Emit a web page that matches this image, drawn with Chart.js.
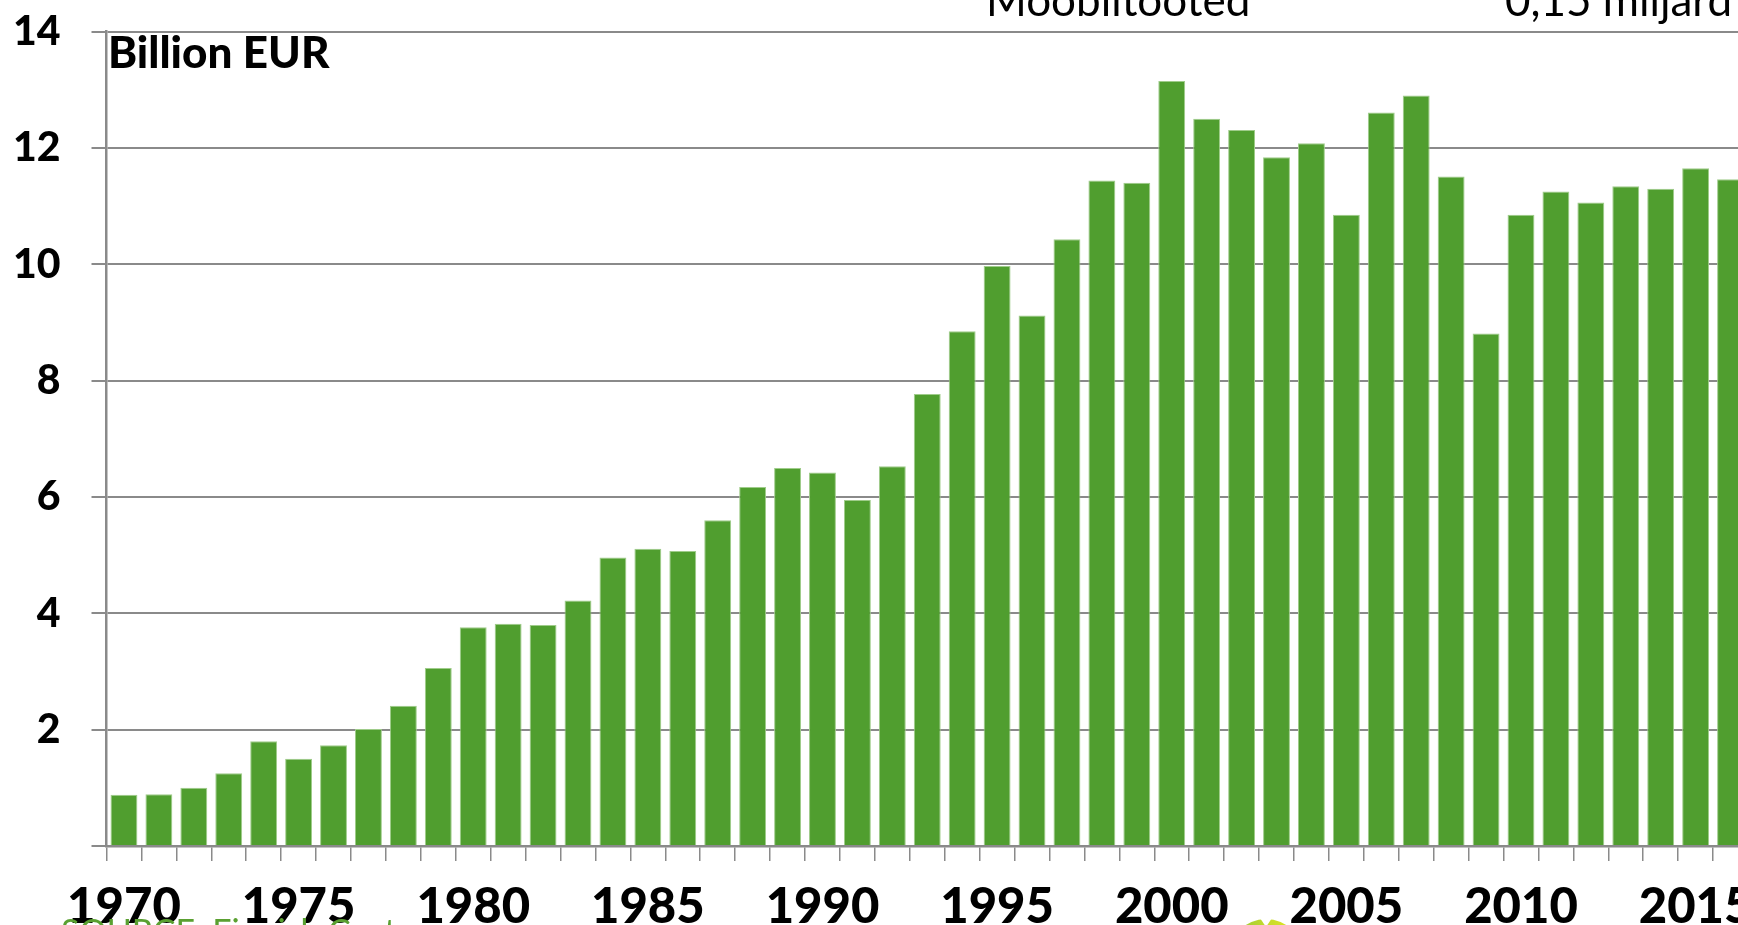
<!DOCTYPE html>
<html lang="en">
<head>
  <meta charset="UTF-8">
  <title>Billion EUR</title>
  <script src="https://cdn.jsdelivr.net/npm/chart.js"></script>
  <style>
    html, body { margin: 0; padding: 0; background: #fff; overflow: hidden; width: 1738px; height: 925px; }
    #wrap { position: absolute; left: 0; top: -24px; width: 1760px; height: 969px; }
    .note { position: absolute; white-space: nowrap; font-family: Lato, "Open Sans", sans-serif; line-height: 1; }
    #logo { position: absolute; left: 1228px; top: 919px; width: 76px; height: 76px; border-radius: 50%;
            background: linear-gradient(90deg, #8cc43c, #c9dc2a 55%, #e8e61e); }
    #logo:after { content: ''; position: absolute; left: 32px; top: -1px; border-left: 6px solid transparent;
                  border-right: 6px solid transparent; border-top: 9px solid #fff; }
  </style>
</head>
<body>
  <div id="wrap"><canvas id="chart"></canvas></div>

  <div class="note" style="left:986px; top:-23px; font-size:44px; color:#000;">Moobiltooted</div>
  <div class="note" style="left:1505px; top:-23px; font-size:44px; color:#000;">0,15 miljard</div>
  <div class="note" style="left:108px; top:29px; font-size:44px; font-weight:900; color:#000;">Billion EUR</div>
  <div class="note" style="left:61px; top:914px; font-size:34px; color:#5aa031;">SOURCE: Finnish Customs</div>
  <div id="logo"></div>

  <script>
    // years on the x axis
    const years = ['1970','1971','1972','1973','1974','1975','1976','1977','1978','1979',
                   '1980','1981','1982','1983','1984','1985','1986','1987','1988','1989',
                   '1990','1991','1992','1993','1994','1995','1996','1997','1998','1999',
                   '2000','2001','2002','2003','2004','2005','2006','2007','2008','2009',
                   '2010','2011','2012','2013','2014','2015','2016'];
    // billion EUR
    const values = [0.88, 0.89, 1.00, 1.25, 1.80, 1.50, 1.73, 2.01, 2.41, 3.06,
                    3.76, 3.82, 3.80, 4.22, 4.96, 5.11, 5.07, 5.60, 6.17, 6.50,
                    6.42, 5.95, 6.53, 7.77, 8.85, 9.97, 9.12, 10.43, 11.44, 11.40,
                    13.15, 12.50, 12.31, 11.84, 12.08, 10.85, 12.61, 12.90, 11.51, 8.81,
                    10.85, 11.25, 11.06, 11.34, 11.30, 11.65, 11.46];
    // only these years get a label
    const labelYears = ['1970','1975','1980','1985','1990','1995','2000','2005','2010','2015'];
    const yMax = 14;
    const yStep = 2;

    const axisGrey = '#8a8a8a';
    const font = 'Lato, "Open Sans", sans-serif';

    new Chart(document.getElementById('chart'), {
      type: 'bar',
      data: {
        labels: years,
        datasets: [{
          data: values,
          backgroundColor: '#509e2f',
          borderColor: '#9fcc8a',
          borderWidth: 1,
          barPercentage: 0.77,
          categoryPercentage: 1
        }]
      },
      options: {
        responsive: true,
        maintainAspectRatio: false,
        animation: false,
        layout: { padding: { left: 0, right: 12, top: 6, bottom: 0 } },
        plugins: { legend: { display: false }, tooltip: { enabled: false } },
        scales: {
          x: {
            afterFit: s => { s.height = 99; },
            grid: { display: true, offset: true, drawOnChartArea: false, color: axisGrey, lineWidth: 1.5, tickLength: 15 },
            border: { color: axisGrey, width: 2.5 },
            ticks: {
              autoSkip: false, maxRotation: 0, minRotation: 0, padding: 17,
              color: '#000', font: { family: font, size: 49, weight: 900 },
              callback: function (v) {
                const y = this.getLabelForValue(v);
                return labelYears.includes(y) ? y : '';
              }
            }
          },
          y: {
            min: 0, max: yMax,
            afterFit: s => { s.width = 106.5; },
            grid: { color: axisGrey, lineWidth: 2, tickLength: 15 },
            border: { color: axisGrey, width: 2.5 },
            ticks: {
              stepSize: yStep, padding: 31,
              color: '#000', font: { family: font, size: 41, weight: 900 },
              callback: v => v === 0 ? '' : v
            }
          }
        }
      }
    });
  </script>
</body>
</html>
